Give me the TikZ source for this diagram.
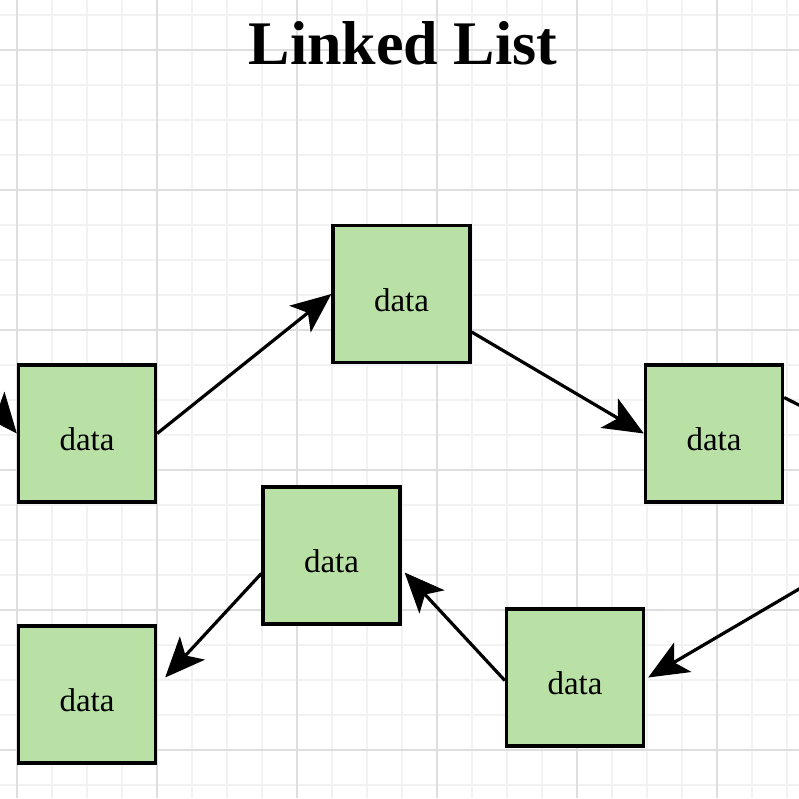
\documentclass[tikz,border=0pt]{standalone}
\usepackage{fontspec}
\setmainfont{Liberation Serif}
\usetikzlibrary{arrows.meta}
\definecolor{boxfill}{HTML}{B9E0A5}
\definecolor{gridminor}{HTML}{F2F2F2}
\definecolor{gridmajor}{HTML}{DEDEDE}
\newcommand{\boxtext}{\raisebox{-17pt}[0pt][0pt]{data}}
\tikzset{
  databox/.style={draw=black, line width=3.3pt, fill=boxfill, minimum width=137pt, minimum height=137pt, inner sep=0pt, font=\fontsize{33}{36}\selectfont},
  link/.style={draw=black, line width=3.2pt, -{Stealth[length=40pt, width=34pt, inset=10pt]}},
  linkplain/.style={draw=black, line width=3.2pt}
}
\begin{document}
\begin{tikzpicture}[x=1pt,y=-1pt]
\useasboundingbox (0,0) rectangle (799,798);
\fill[white] (0,0) rectangle (799,798);
% grid
\foreach \i in {0,...,22} {
  \draw[gridminor, line width=1.5pt] ({17+35*\i},0) -- ({17+35*\i},798);
  \draw[gridminor, line width=1.5pt] (0,{15+35*\i}) -- (799,{15+35*\i});
}
\foreach \i in {0,...,5} {
  \draw[gridmajor, line width=1.2pt] ({17+140*\i},0) -- ({17+140*\i},798);
  \draw[gridmajor, line width=1.2pt] (0,{50+140*\i}) -- (799,{50+140*\i});
}
% title
\node[anchor=base, inner sep=0pt, font=\fontsize{62}{70}\selectfont\bfseries] (title) at (403,64) {Linked List};
% boxes
\node[databox] (b1) at (87,433.5) {\boxtext};
\node[databox] (b2) at (401.5,294) {\boxtext};
\node[databox] (b3) at (714,433.5) {\boxtext};
\node[databox] (b4) at (331.5,555.5) {\boxtext};
\node[databox] (b5) at (87,694.5) {\boxtext};
\node[databox] (b6) at (575,677.5) {\boxtext};
% off-page ends
\coordinate (inL) at (-25,383);
\coordinate (outR) at (840,426);
\coordinate (inR) at (840,565);
% links
\draw[link] (inL) -- (b1.west);
\draw[link] (b1.east) -- (b2.west);
\draw[link] ([yshift=-38pt]b2.east) -- (b3.west);
\draw[linkplain] ([yshift=36pt]b3.east) -- (outR);
\draw[link] (inR) -- ([xshift=3pt]b6.east);
\draw[link] ([yshift=-3pt]b6.west) -- ([xshift=3pt,yshift=-17pt]b4.east);
\draw[link] ([yshift=-18pt]b4.west) -- ([xshift=8pt,yshift=17pt]b5.east);
\end{tikzpicture}
\end{document}
